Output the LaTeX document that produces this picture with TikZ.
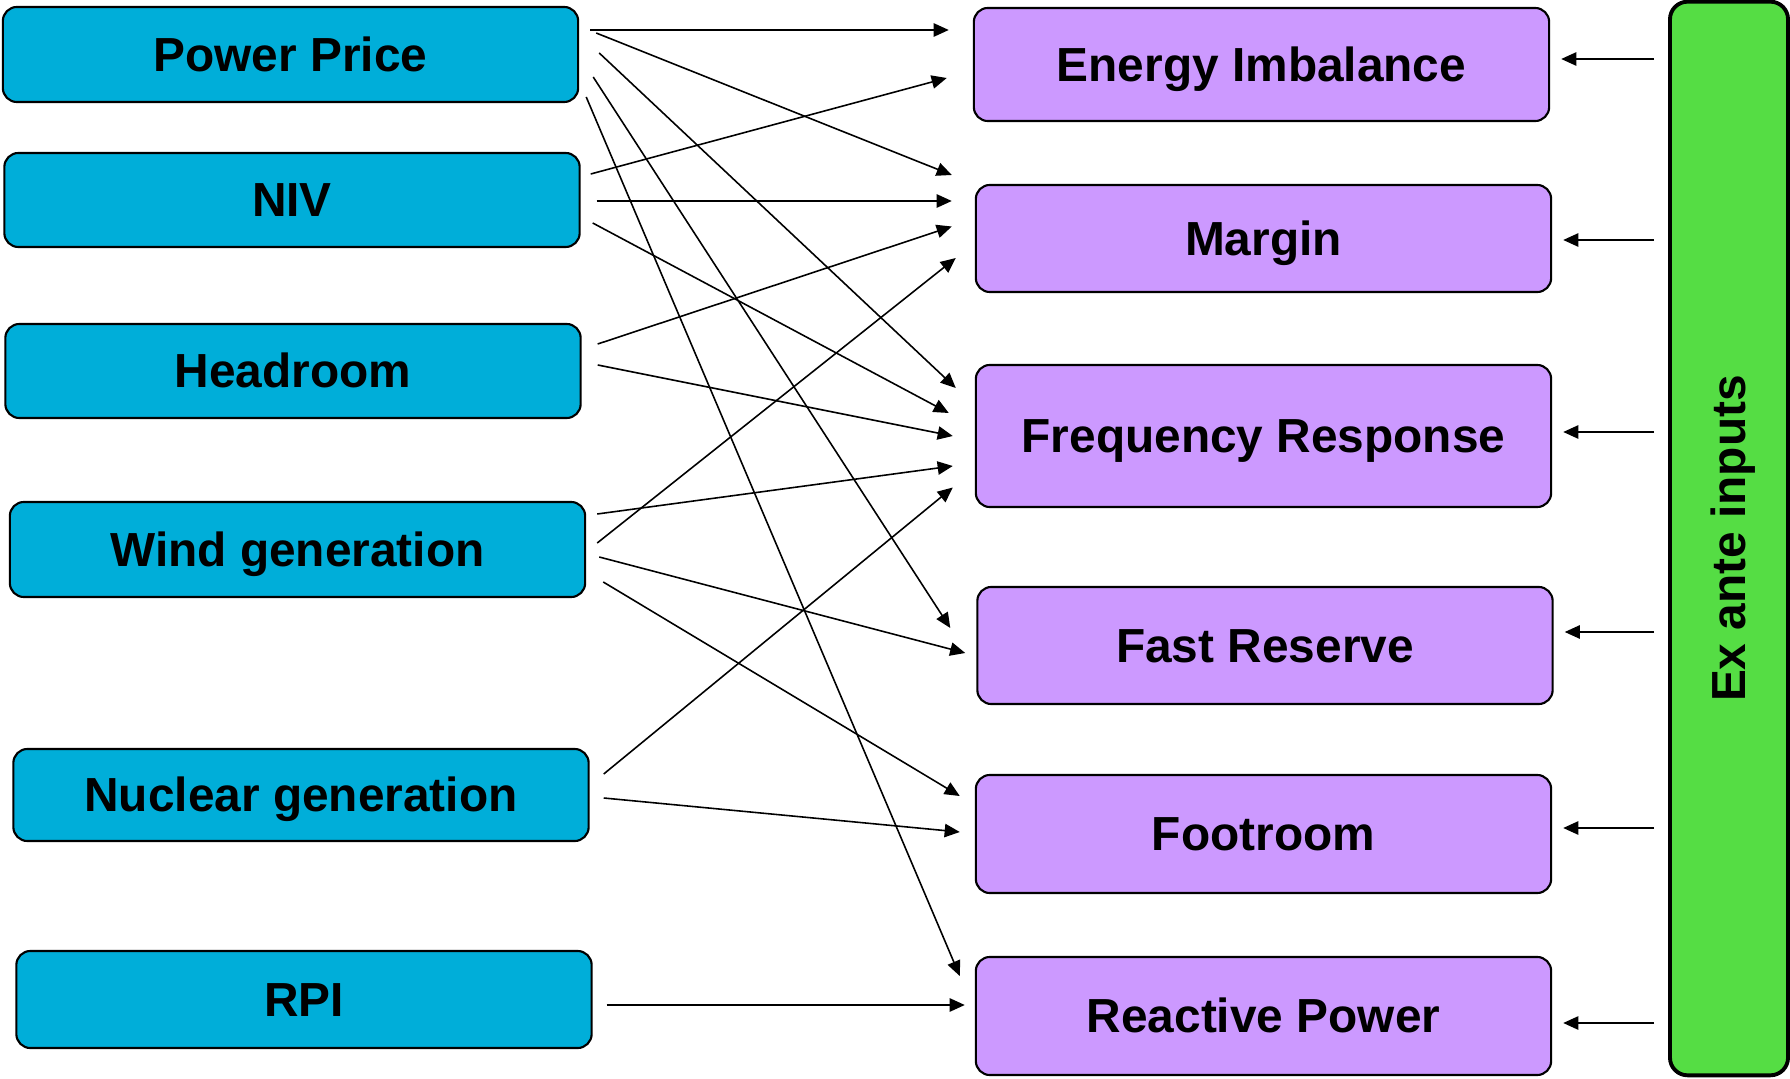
\documentclass[tikz,border=0pt]{standalone}
\usepackage{fontspec}
\setmainfont{Liberation Sans}
\usepackage{tikz}
\usetikzlibrary{arrows.meta,calc}
\definecolor{cCyan}{HTML}{00AED9}
\definecolor{cLilac}{HTML}{CC99FF}
\definecolor{cGreen}{HTML}{55DD44}
\tikzset{
  % text box is cap height only, so labels sit centred on their capitals
  cbox/.style={draw=black,fill=#1,rounded corners=4pt,line width=0.6pt,align=center,font=\fontsize{13.6}{16}\selectfont\bfseries,inner sep=2pt,
    text height=9.4pt,text depth=0pt},
  cbox/.default=cCyan,
  inbox/.style={cbox=cCyan,minimum width=5.75cm},
  outbox/.style={cbox=cLilac,minimum width=5.75cm},
  exbox/.style={cbox=cGreen,line width=1.1pt,rounded corners=5pt},
  arr/.style={-{Triangle[length=4.3pt,width=3.8pt]},line width=0.45pt,color=black},
}
\begin{document}
\begin{tikzpicture}[x=0.01cm,y=-0.01cm]
    \useasboundingbox (0,0) rectangle (1790,1079);
    % inputs
    \foreach \n/\x/\y/\h/\t in {pp/290.5/54.5/0.95/Power Price,niv/292/200/0.94/NIV,head/293/371/0.94/Headroom,
                               wind/297.5/549.5/0.95/Wind generation,nuc/301/795/0.92/Nuclear generation,rpi/304/999.5/0.97/RPI}{
      \node[inbox,minimum height=\h cm] (\n) at (\x,\y) {\t};}
    % outputs
    \foreach \n/\x/\y/\h/\t in {ei/1261.5/64.5/1.13/Energy Imbalance,mar/1263.5/238.5/1.07/Margin,fr/1263.5/436/1.42/Frequency Response,
                               fres/1265/645.5/1.17/Fast Reserve,foot/1263.5/834/1.18/Footroom,rp/1263.5/1016/1.18/Reactive Power}{
      \node[outbox,minimum height=\h cm] (\n) at (\x,\y) {\t};}
    % ex ante bar (rotated: north is the left side)
    \node[exbox,rotate=90,minimum width=10.73cm,minimum height=1.18cm] (gb) at (1729,538.5) {Ex ante inputs};
    % input -> output links (offsets in px from east / west anchors)
    \foreach \a/\ax/\ay/\b/\bx/\by in {pp/11/-24.5/ei/-24/-34.5, pp/17/-21.5/mar/-23/-63.5, pp/20/-1.5/fr/-19/-48,
        pp/14/22.5/fres/-26/-17.5, pp/7/42.5/rp/-15/-40,
        niv/10/-26/ei/-26/13.5, niv/16/1/mar/-23/-37.5, niv/12/23/fr/-26/-23,
        head/16/-27/mar/-23/-12, head/16/-6/fr/-22/0,
        wind/11/-6.5/mar/-19/19.5, wind/11/-35.5/fr/-22/30, wind/13/7.5/fres/-11/7.5, wind/17/32.5/foot/-15/-38,
        nuc/14/-21/fr/-22/51.5, nuc/14/3/foot/-15/-2,
        rpi/14/5.5/rp/-10/-11}{
      \draw[arr] ($(\a.east)+(\ax,\ay)$) -- ($(\b.west)+(\bx,\by)$);}
    % ex ante -> outputs
    \foreach \n/\dy in {ei/-5.5,mar/1.5,fr/-4,fres/-13.5,foot/-6,rp/7}{
      \draw[arr] ($(gb.north|-\n.east)+(-14,\dy)$) -- ($(\n.east)+(11,\dy)$);}
\end{tikzpicture}
\end{document}
